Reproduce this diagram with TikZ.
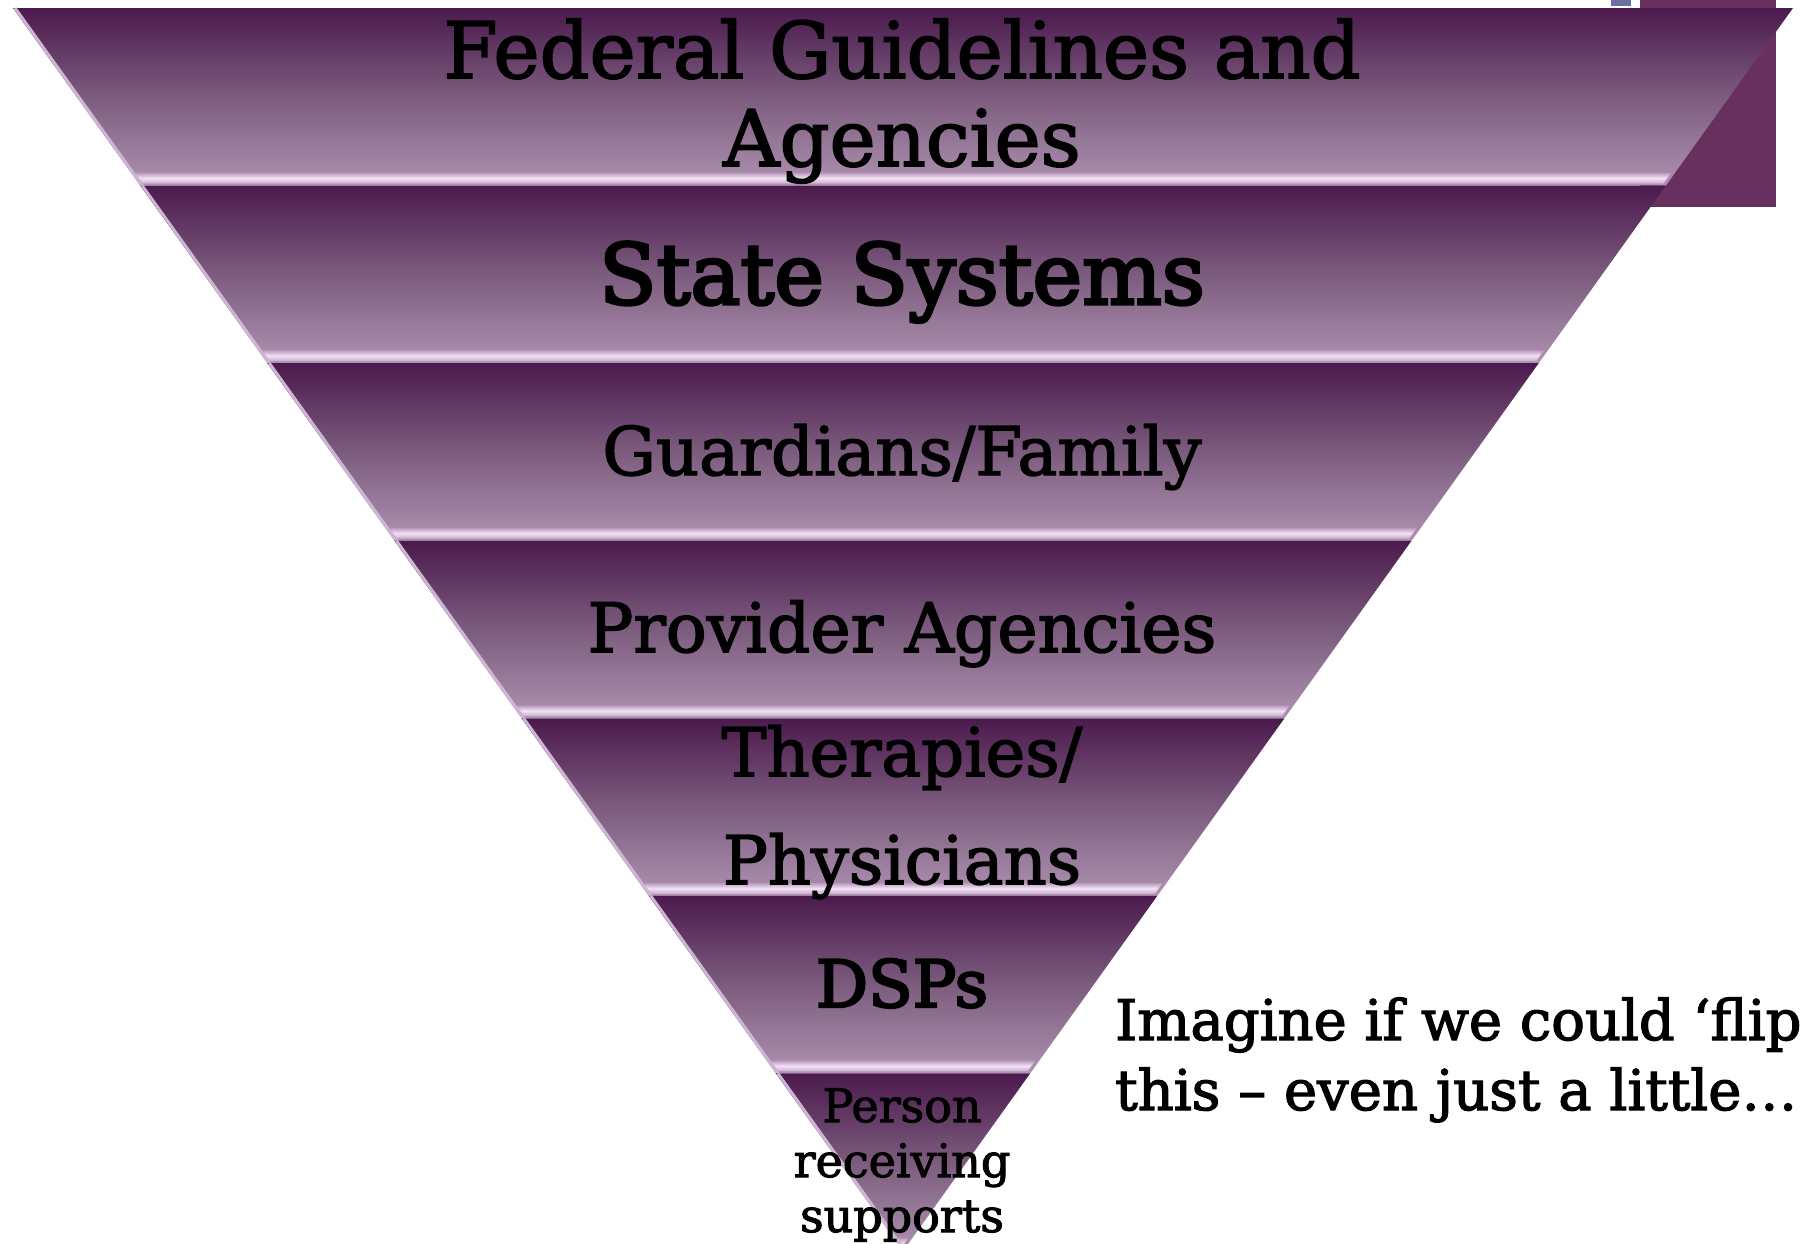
\documentclass[tikz,border=0pt]{standalone}
\usepackage{fontspec}
\setmainfont{DejaVu Serif}
\newfontfamily\slab{DejaVu Serif}[FakeBold=2.2]
\newfontfamily\slabheavy{DejaVu Serif}[FakeBold=3.6]
\begin{document}
\begin{tikzpicture}[x=1pt,y=-1pt,
  tier/.style={anchor=base,inner sep=0pt,text=black},
  note/.style={anchor=base west,inner sep=0pt,text=black}]
\definecolor{bandtop}{HTML}{4B1A4D}
\definecolor{bandmid}{HTML}{7C5C7E}
\definecolor{bandbot}{HTML}{AE92B0}
\definecolor{glowtop}{HTML}{B898BC}
\definecolor{glowmid}{HTML}{F3E2F5}
\definecolor{glowbot}{HTML}{C7ABCB}
\definecolor{edgelight}{HTML}{CDB6D4}
\definecolor{cornerbox}{HTML}{67305F}
\definecolor{tabbox}{HTML}{6B70A3}
\useasboundingbox (0,0) rectangle (1800,1243);
\clip (0,0) rectangle (1800,1243);
\fill[white] (0,0) rectangle (1800,1243);
% small boxes peeking out behind the top-right corner
\fill[cornerbox] (1640,0) rectangle (1776,207);
\fill[tabbox] (1611,0) rectangle (1631,6);
% the inverted pyramid, seven stacked bands
\foreach \i in {0,...,6}{
  \pgfmathsetmacro\bandT{8+177.57*\i}
  \pgfmathsetmacro\bandB{\bandT+177.57}
  \pgfmathsetmacro\halfT{(1251-\bandT)*0.71601}
  \pgfmathsetmacro\halfB{(1251-\bandB)*0.71601}
  \pgfmathsetmacro\glowT{\bandB-13}
  \pgfmathsetmacro\glowB{\bandB-2}
  \pgfmathsetmacro\halfGT{(1251-\glowT)*0.71601-4}
  \pgfmathsetmacro\halfGB{(1251-\glowB)*0.71601-4}
  \shade[top color=bandtop, bottom color=bandbot, middle color=bandmid]
    (903-\halfT,\bandT) -- (903+\halfT,\bandT) -- (903+\halfB,\bandB) -- (903-\halfB,\bandB) -- cycle;
  \draw[edgelight, line width=3pt]
    (905-\halfT,\bandT) -- (905-\halfB,\bandB);
  \shade[top color=glowtop, bottom color=glowbot, middle color=glowmid]
    (903-\halfGT,\glowT) -- (903+\halfGT,\glowT) -- (903+\halfGB,\glowB) -- (903-\halfGB,\glowB) -- cycle;
}
% tier labels
\node[tier,font=\slab\fontsize{78}{90}\selectfont] (fed1) at (902,78) {Federal Guidelines and};
\node[tier,font=\slab\fontsize{78}{90}\selectfont] (fed2) at (902,166) {Agencies};
\node[tier,font=\slabheavy\fontsize{84}{100}\selectfont] (state) at (902,304) {State Systems};
\node[tier,font=\slab\fontsize{67}{86}\selectfont] (guard) at (902,475) {Guardians/Family};
\node[tier,font=\slab\fontsize{68}{86}\selectfont] (prov) at (902,652) {Provider Agencies};
\node[tier,font=\slab\fontsize{67}{86}\selectfont] (ther) at (902,776) {Therapies/};
\node[tier,font=\slab\fontsize{67}{86}\selectfont] (phys) at (902,884) {Physicians};
\node[tier,font=\slabheavy\fontsize{65}{80}\selectfont] (dsp) at (902,1007) {DSPs};
\node[tier,font=\slab\fontsize{46}{55}\selectfont] (pers1) at (902,1122) {Person};
\node[tier,font=\slab\fontsize{46}{55}\selectfont] (pers2) at (902,1177) {receiving};
\node[tier,font=\slab\fontsize{46}{55}\selectfont] (pers3) at (902,1232) {supports};
% side remark
\node[note,font=\slab\fontsize{56}{70}\selectfont] (rem1) at (1115,1040) {Imagine if we could ‘flip’};
\node[note,font=\slab\fontsize{56}{70}\selectfont] (rem2) at (1115,1110) {this – even just a little…};
\end{tikzpicture}
\end{document}
